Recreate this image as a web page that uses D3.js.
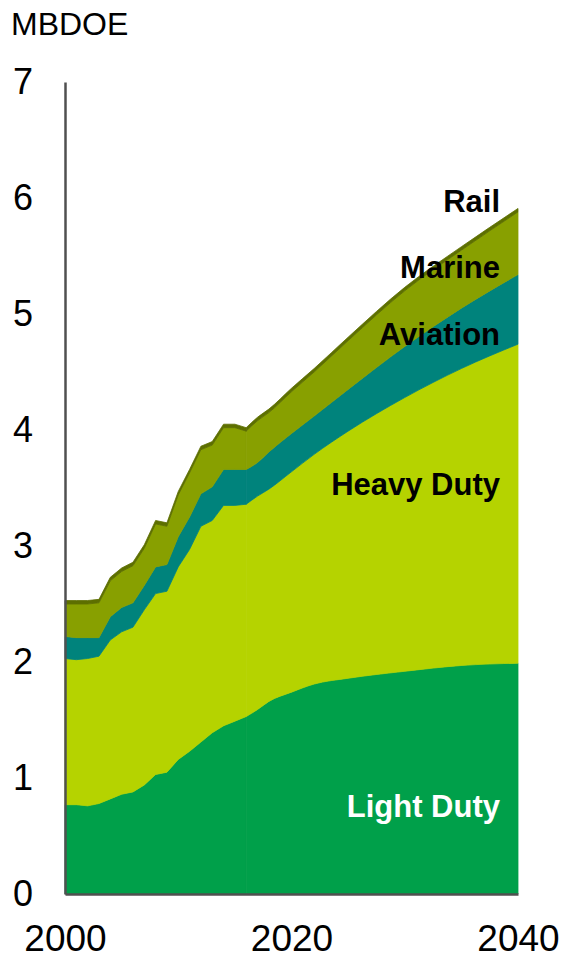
<!DOCTYPE html>
<html>
<head>
<meta charset="utf-8">
<script src="https://d3js.org/d3.v7.min.js"></script>
<style>
body { margin: 0; background: #fff; }
svg { font-family: "Liberation Sans", Arial, sans-serif; }
.tick text { fill: #000; }
.label { font-weight: bold; font-size: 31px; }
</style>
</head>
<body>
<svg width="562" height="956"></svg>
<script>
// values, MBDOE by sector
var years      = [2000,2001,2002,2003,2004,2005,2006,2007,2008,2009,2010,2011,2012,2013,2014,2015,2016,2017,2018,2020,2022,2025,2030,2035,2040];
var lightDuty  = [0.77,0.77,0.76,0.78,0.82,0.86,0.88,0.94,1.03,1.05,1.16,1.23,1.31,1.39,1.45,1.49,1.53,1.59,1.66,1.74,1.81,1.86,1.92,1.97,1.99];
var heavyDuty  = [1.26,1.25,1.27,1.27,1.37,1.40,1.42,1.51,1.56,1.56,1.66,1.74,1.86,1.83,1.90,1.86,1.83,1.84,1.83,1.90,1.98,2.13,2.36,2.56,2.75];
var aviation   = [0.19,0.19,0.18,0.16,0.20,0.21,0.21,0.21,0.23,0.23,0.26,0.28,0.28,0.29,0.31,0.31,0.30,0.29,0.32,0.33,0.33,0.36,0.44,0.52,0.60];
var marine     = [0.28,0.29,0.29,0.30,0.31,0.31,0.32,0.32,0.37,0.33,0.36,0.38,0.38,0.36,0.36,0.36,0.33,0.36,0.34,0.36,0.38,0.42,0.48,0.50,0.54];
var rail       = [0.03,0.03,0.03,0.03,0.03,0.03,0.03,0.03,0.03,0.03,0.03,0.03,0.03,0.03,0.03,0.03,0.03,0.03,0.03,0.03,0.03,0.03,0.03,0.03,0.03];
var lastHistory = 2016;

var keys   = ["Light Duty","Heavy Duty","Aviation","Marine","Rail"];
var colors = ["#00a04a","#b5d300","#00837c","#88a000","#5d6f00"];
var yTicks = [0,1,2,3,4,5,6,7];
var xTicks = [2000,2020,2040];

var rows = years.map(function(yr, i) {
    return {year: yr, "Light Duty": lightDuty[i], "Heavy Duty": heavyDuty[i],
            "Aviation": aviation[i], "Marine": marine[i], "Rail": rail[i]};
});

var svg = d3.select("svg");
var x = d3.scaleLinear().domain([2000,2040]).range([65,518]);
var y = d3.scaleLinear().domain([0,7]).range([894,82]);

var series = d3.stack().keys(keys)(rows);

function makeArea(curve) {
    return d3.area()
        .curve(curve)
        .x(function(d) { return x(d.data.year); })
        .y0(function(d) { return y(d[0]); })
        .y1(function(d) { return y(d[1]); });
}
var histArea = makeArea(d3.curveLinear);
var projArea = makeArea(d3.curveMonotoneX);

// thin same-colour stroke hides the seam between the two pieces
var layers = svg.append("g").selectAll("g").data(series).enter().append("g")
    .attr("fill", function(d, i) { return colors[i]; })
    .attr("stroke", function(d, i) { return colors[i]; })
    .attr("stroke-width", 0.8)
    .attr("stroke-linejoin", "round");

// history: straight segments
layers.append("path")
    .attr("d", function(s) { return histArea(s.filter(function(d) { return d.data.year <= lastHistory; })); });
// projection: smooth
layers.append("path")
    .attr("d", function(s) { return projArea(s.filter(function(d) { return d.data.year >= lastHistory; })); });

// series labels
var labels = [
    {text: "Rail",       y: 212, color: "#000"},
    {text: "Marine",     y: 278, color: "#000"},
    {text: "Aviation",   y: 345, color: "#000"},
    {text: "Heavy Duty", y: 495, color: "#000"},
    {text: "Light Duty", y: 817, color: "#fff"}
];
svg.append("g").selectAll("text").data(labels).enter().append("text")
    .attr("class", "label")
    .attr("x", 500)
    .attr("y", function(d) { return d.y; })
    .attr("text-anchor", "end")
    .attr("fill", function(d) { return d.color; })
    .text(function(d) { return d.text; });

// y-axis
var yAxis = svg.append("g")
    .attr("transform", "translate(65,0)")
    .call(d3.axisLeft(y).tickValues(yTicks).tickSize(0).tickPadding(32).tickFormat(d3.format("d")));
yAxis.selectAll("text").style("font-size", "36px").style("font-family", "'Liberation Sans', Arial, sans-serif");
yAxis.select(".domain").attr("stroke", "#505050").attr("stroke-width", 2.5);

// x-axis
var xAxis = svg.append("g")
    .attr("transform", "translate(0,894)")
    .call(d3.axisBottom(x).tickValues(xTicks).tickSize(0).tickPadding(31).tickFormat(d3.format("d")));
xAxis.selectAll("text").style("font-size", "37px").style("font-family", "'Liberation Sans', Arial, sans-serif");
xAxis.select(".domain").attr("stroke", "#505050").attr("stroke-width", 2.5);

// unit
svg.append("text")
    .attr("x", 11)
    .attr("y", 35)
    .style("font-size", "32px")
    .text("MBDOE");
</script>
</body>
</html>
